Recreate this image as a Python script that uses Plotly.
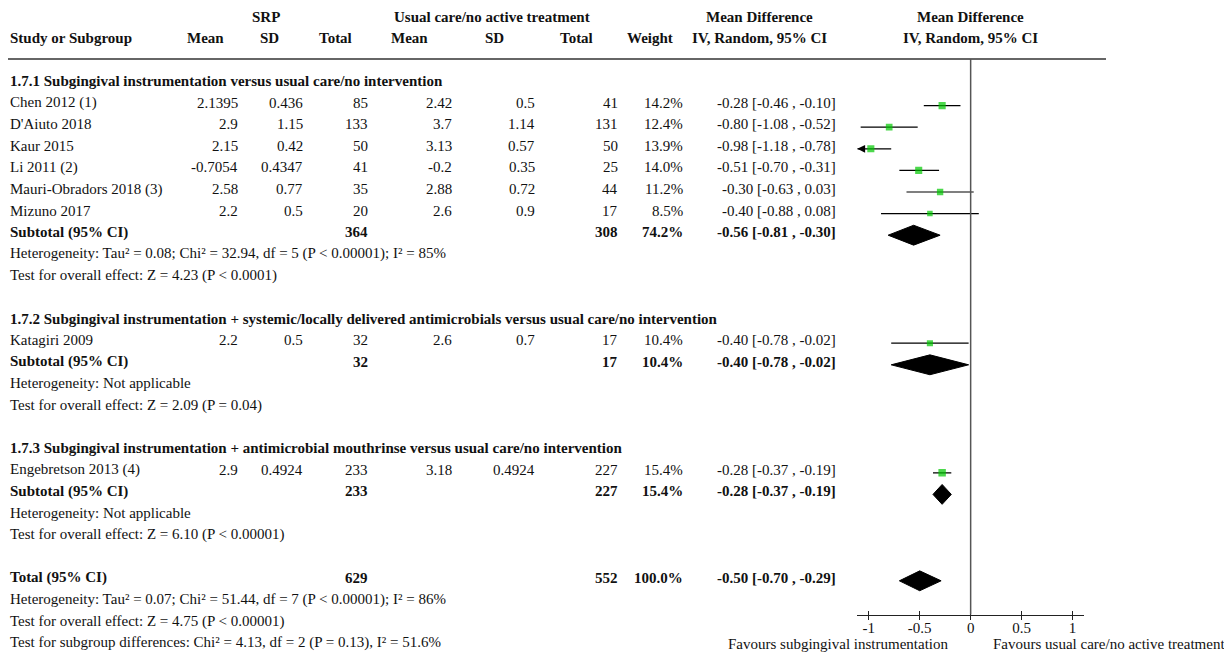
import plotly.graph_objects as go
import math

# ---------------- data ----------------
study_names = ["Chen 2012 (1)", "D'Aiuto 2018", "Kaur 2015", "Li 2011 (2)",
               "Mauri-Obradors 2018 (3)", "Mizuno 2017", "Katagiri 2009",
               "Engebretson 2013 (4)"]
study_group = [0, 0, 0, 0, 0, 0, 1, 2]
srp_mean = [2.1395, 2.9, 2.15, -0.7054, 2.58, 2.2, 2.2, 2.9]
srp_sd = [0.436, 1.15, 0.42, 0.4347, 0.77, 0.5, 0.5, 0.4924]
srp_n = [85, 133, 50, 41, 35, 20, 32, 233]
ctl_mean = [2.42, 3.7, 3.13, -0.2, 2.88, 2.6, 2.6, 3.18]
ctl_sd = [0.5, 1.14, 0.57, 0.35, 0.72, 0.9, 0.7, 0.4924]
ctl_n = [41, 131, 50, 25, 44, 17, 17, 227]
weight = [14.2, 12.4, 13.9, 14.0, 11.2, 8.5, 10.4, 15.4]
md = [-0.28, -0.80, -0.98, -0.51, -0.30, -0.40, -0.40, -0.28]
md_lo = [-0.46, -1.08, -1.18, -0.70, -0.63, -0.88, -0.78, -0.37]
md_hi = [-0.10, -0.52, -0.78, -0.31, 0.03, 0.08, -0.02, -0.19]

group_titles = [
    "1.7.1 Subgingival instrumentation versus usual care/no intervention",
    "1.7.2 Subgingival instrumentation + systemic/locally delivered antimicrobials versus usual care/no intervention",
    "1.7.3 Subgingival instrumentation + antimicrobial mouthrinse versus usual care/no intervention",
]
sub_srp_n = [364, 32, 233]
sub_ctl_n = [308, 17, 227]
sub_weight = [74.2, 10.4, 15.4]
sub_md = [-0.56, -0.40, -0.28]
sub_lo = [-0.81, -0.78, -0.37]
sub_hi = [-0.30, -0.02, -0.19]
sub_het = ["Heterogeneity: Tau² = 0.08; Chi² = 32.94, df = 5 (P < 0.00001); I² = 85%",
           "Heterogeneity: Not applicable",
           "Heterogeneity: Not applicable"]
sub_test = ["Test for overall effect: Z = 4.23 (P < 0.0001)",
            "Test for overall effect: Z = 2.09 (P = 0.04)",
            "Test for overall effect: Z = 6.10 (P < 0.00001)"]

tot_srp_n = 629
tot_ctl_n = 552
tot_weight = 100.0
tot_md, tot_lo, tot_hi = -0.50, -0.70, -0.29
tot_notes = ["Heterogeneity: Tau² = 0.07; Chi² = 51.44, df = 7 (P < 0.00001); I² = 86%",
             "Test for overall effect: Z = 4.75 (P < 0.00001)",
             "Test for subgroup differences: Chi² = 4.13, df = 2 (P = 0.13), I² = 51.6%"]

tick_vals = [-1, -0.5, 0, 0.5, 1]
tick_text = ["-1", "-0.5", "0", "0.5", "1"]
favours_left = "Favours subgingival instrumentation"
favours_right = "Favours usual care/no active treatment"

# ---------------- layout helpers ----------------
W, H = 1232, 653
OFF = 8                     # page body margin
ROW0, ROWH = 84.0, 21.6     # page pixel of row 0 (marks), row height
FONT = "Liberation Serif"
FS = 15
TXT = "#111111"
GREEN = "#00c800"
XMIN, XMAX = -1.113, 1.113

def px(x):
    return (x - OFF) / W

def py(p):
    return 1 - (p - OFF) / H

# column positions (page pixels)
C_NAME = 8
C_SM, C_SSD, C_SN = 240, 305, 370
C_CM, C_CSD, C_CN = 454, 537, 620
C_W, C_CI = 685, 838

def ci_text(m, l, h):
    return f"{m:.2f} [{l:.2f} , {h:.2f}]"

annotations = []

def txt(x, row, s, anchor="right", bold=False, size=FS):
    annotations.append(dict(
        x=px(x), xref="paper", y=row, yref="y", yshift=3,
        text=f"<b>{s}</b>" if bold else s, showarrow=False,
        xanchor=anchor, yanchor="middle",
        font=dict(family=FONT, size=size, color=TXT)))

# ---------------- build rows ----------------
rows_study = []
rows_sub = []
row = 0
for g in range(3):
    txt(C_NAME, row, group_titles[g], "left", bold=True)
    row += 1
    for i, grp in enumerate(study_group):
        if grp != g:
            continue
        rows_study.append(row)
        txt(C_NAME, row, study_names[i], "left")
        txt(C_SM, row, str(srp_mean[i]))
        txt(C_SSD, row, str(srp_sd[i]))
        txt(C_SN, row, str(srp_n[i]))
        txt(C_CM, row, str(ctl_mean[i]))
        txt(C_CSD, row, str(ctl_sd[i]))
        txt(C_CN, row, str(ctl_n[i]))
        txt(C_W, row, f"{weight[i]:.1f}%")
        txt(C_CI, row, ci_text(md[i], md_lo[i], md_hi[i]))
        row += 1
    rows_sub.append(row)
    txt(C_NAME, row, "Subtotal (95% CI)", "left", bold=True)
    txt(C_SN, row, str(sub_srp_n[g]), bold=True)
    txt(C_CN, row, str(sub_ctl_n[g]), bold=True)
    txt(C_W, row, f"{sub_weight[g]:.1f}%", bold=True)
    txt(C_CI, row, ci_text(sub_md[g], sub_lo[g], sub_hi[g]), bold=True)
    row += 1
    txt(C_NAME, row, sub_het[g], "left"); row += 1
    txt(C_NAME, row, sub_test[g], "left"); row += 2

row_total = row
txt(C_NAME, row, "Total (95% CI)", "left", bold=True)
txt(C_SN, row, str(tot_srp_n), bold=True)
txt(C_CN, row, str(tot_ctl_n), bold=True)
txt(C_W, row, f"{tot_weight:.1f}%", bold=True)
txt(C_CI, row, ci_text(tot_md, tot_lo, tot_hi), bold=True)
for k, note in enumerate(tot_notes):
    txt(C_NAME, row + 1 + k, note, "left")

# headers
HR1, HR2 = -2.98, -1.98
hdr = [(266, HR1, "SRP"), (492, HR1, "Usual care/no active treatment"),
       (759, HR1, "Mean Difference"), (971, HR1, "Mean Difference"),
       (205, HR2, "Mean"), (269, HR2, "SD"), (335, HR2, "Total"),
       (409, HR2, "Mean"), (494, HR2, "SD"), (576, HR2, "Total"),
       (650, HR2, "Weight"), (759, HR2, "IV, Random, 95% CI"),
       (971, HR2, "IV, Random, 95% CI")]
for x, r, s in hdr:
    txt(x, r, s, "center", bold=True)
txt(C_NAME, HR2, "Study or Subgroup", "left", bold=True)

# ---------------- forest traces ----------------
fig = go.Figure()

# CI lines
for i, r in enumerate(rows_study):
    lo = max(md_lo[i], XMIN)
    hi = min(md_hi[i], XMAX)
    fig.add_trace(go.Scatter(x=[lo, hi], y=[r, r], mode="lines",
                             line=dict(color="#000000", width=1.2),
                             xaxis="x2", yaxis="y", hoverinfo="skip", showlegend=False))
    if md_lo[i] < XMIN:
        annotations.append(dict(x=XMIN, y=r, xref="x2", yref="y",
                                ax=XMIN + 0.06, ay=r, axref="x2", ayref="y",
                                showarrow=True, arrowhead=2, arrowsize=1.3,
                                arrowwidth=1.2, arrowcolor="#000000", text=""))

# squares
fig.add_trace(go.Scatter(
    x=md, y=rows_study, mode="markers",
    marker=dict(symbol="square", color=GREEN,
                size=[1.9 * math.sqrt(w) for w in weight], line=dict(width=0)),
    xaxis="x2", yaxis="y", hoverinfo="skip", showlegend=False))

# diamonds
HALF = 0.46
def diamond(m, l, h, r):
    fig.add_trace(go.Scatter(
        x=[l, m, h, m, l], y=[r, r - HALF, r, r + HALF, r],
        mode="lines", fill="toself", fillcolor="#000000",
        line=dict(color="#000000", width=1),
        xaxis="x2", yaxis="y", hoverinfo="skip", showlegend=False))

for g in range(3):
    diamond(sub_md[g], sub_lo[g], sub_hi[g], rows_sub[g])
diamond(tot_md, tot_lo, tot_hi, row_total)

# invisible trace for the upper tick axis
fig.add_trace(go.Scatter(x=[0], y=[0], mode="markers", marker=dict(opacity=0),
                         xaxis="x3", yaxis="y", hoverinfo="skip", showlegend=False))

AXIS_PX = 614.5
ytop = (OFF - ROW0) / ROWH
ybot = (OFF + H - ROW0) / ROWH

shapes = [
    dict(type="line", xref="paper", yref="paper", x0=px(0), x1=px(1106),
         y0=py(59), y1=py(59), line=dict(color="#666666", width=2)),
    dict(type="line", xref="x2", yref="paper", x0=0, x1=0,
         y0=py(59), y1=py(AXIS_PX), line=dict(color="#555555", width=1.5)),
]

annotations.append(dict(x=px(950), xref="paper", y=py(644), yref="paper",
                        text=favours_left, showarrow=False, xanchor="right",
                        yanchor="middle", font=dict(family=FONT, size=FS, color=TXT)))
annotations.append(dict(x=px(991), xref="paper", y=py(644), yref="paper",
                        text=favours_right, showarrow=False, xanchor="left",
                        yanchor="middle", font=dict(family=FONT, size=FS, color=TXT)))

dom = [px(857.3), px(1084)]
fig.update_layout(
    width=W, height=H,
    margin=dict(l=0, r=0, t=0, b=0),
    paper_bgcolor="white", plot_bgcolor="white",
    showlegend=False,
    xaxis=dict(visible=False, range=[0, 1]),
    yaxis=dict(visible=False, range=[ybot, ytop], domain=[0, 1]),
    xaxis2=dict(domain=dom, range=[XMIN, XMAX], anchor="free", position=py(AXIS_PX),
                showline=True, linecolor="#222222", linewidth=1.2,
                ticks="outside", ticklen=4, tickwidth=1.2, tickcolor="#222222",
                ticklabelstandoff=-5,
                tickvals=tick_vals, ticktext=tick_text, showgrid=False, zeroline=False,
                tickfont=dict(family=FONT, size=FS, color=TXT)),
    xaxis3=dict(domain=dom, range=[XMIN, XMAX], anchor="free", position=py(AXIS_PX),
                overlaying="x2", side="top", showline=False,
                ticks="outside", ticklen=4, tickwidth=1.2, tickcolor="#222222",
                tickvals=tick_vals, showticklabels=False, showgrid=False, zeroline=False),
    shapes=shapes,
    annotations=annotations,
)

fig.write_html("out.html")
